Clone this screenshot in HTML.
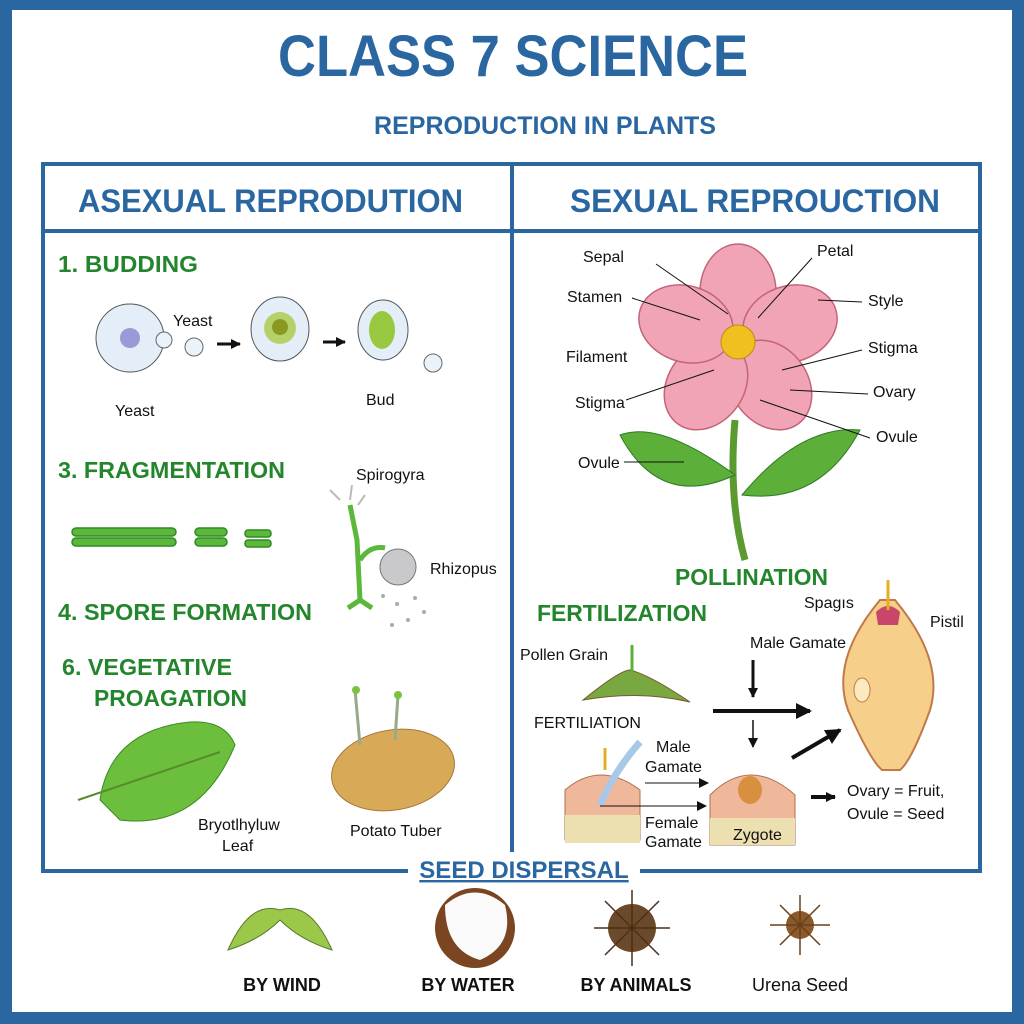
<!DOCTYPE html>
<html><head><meta charset="utf-8"><style>
html,body{margin:0;padding:0;background:#fff}
svg{display:block}
text{font-family:"Liberation Sans",sans-serif}
.h{font-weight:bold;fill:#2a66a0}
.g{font-weight:bold;fill:#24862c}
.l{font-size:16px;fill:#111}
</style></head><body>
<svg width="1024" height="1024" viewBox="0 0 1024 1024" xmlns="http://www.w3.org/2000/svg">
<defs><marker id="a" markerUnits="userSpaceOnUse" markerWidth="10" markerHeight="10" refX="9" refY="5" orient="auto"><path d="M0,0 L10,5 L0,10z" fill="#111"/></marker>
<marker id="b" markerUnits="userSpaceOnUse" markerWidth="16" markerHeight="16" refX="14" refY="8" orient="auto"><path d="M0,0 L16,8 L0,16z" fill="#111"/></marker></defs>
<rect x="0" y="0" width="1024" height="1024" fill="#2a66a0"/>
<rect x="12" y="10" width="1000" height="1002" fill="#fff"/>
<text x="278" y="76" class="h" font-size="58" textLength="470" lengthAdjust="spacingAndGlyphs">CLASS 7 SCIENCE</text>
<text x="374" y="134" class="h" font-size="25" textLength="342" lengthAdjust="spacingAndGlyphs">REPRODUCTION IN PLANTS</text>
<rect x="43" y="164" width="937" height="707" fill="none" stroke="#2a66a0" stroke-width="4"/>
<line x1="43" y1="231" x2="980" y2="231" stroke="#2a66a0" stroke-width="4"/>
<line x1="512" y1="164" x2="512" y2="871" stroke="#2a66a0" stroke-width="4"/>
<text x="78" y="212" class="h" font-size="32" textLength="385" lengthAdjust="spacingAndGlyphs">ASEXUAL REPRODUTION</text>
<text x="570" y="212" class="h" font-size="32" textLength="370" lengthAdjust="spacingAndGlyphs">SEXUAL REPROUCTION</text>
<!-- left -->
<text x="58" y="272" class="g" font-size="23" textLength="140" lengthAdjust="spacingAndGlyphs">1. BUDDING</text>
<circle cx="130" cy="338" r="34" fill="#e4eef8" stroke="#555"/>
<circle cx="130" cy="338" r="10" fill="#9a9ad8"/>
<circle cx="164" cy="340" r="8" fill="#eaf2fa" stroke="#666"/>
<circle cx="194" cy="347" r="9" fill="#eaf2fa" stroke="#666"/>
<text x="173" y="326" class="l" font-size="18">Yeast</text>
<text x="115" y="416" class="l" font-size="18">Yeast</text>
<line x1="217" y1="344" x2="240" y2="344" stroke="#111" stroke-width="3" marker-end="url(#a)"/>
<ellipse cx="280" cy="329" rx="29" ry="32" fill="#e4eef8" stroke="#555"/>
<circle cx="280" cy="328" r="16" fill="#b5d26a"/><circle cx="280" cy="327" r="8" fill="#8a9a20"/>
<line x1="323" y1="342" x2="345" y2="342" stroke="#111" stroke-width="3" marker-end="url(#a)"/>
<ellipse cx="383" cy="330" rx="25" ry="30" fill="#e4eef8" stroke="#555"/>
<ellipse cx="382" cy="330" rx="13" ry="19" fill="#98c840"/>
<circle cx="433" cy="363" r="9" fill="#eaf2fa" stroke="#666"/>
<text x="366" y="405" class="l" font-size="18">Bud</text>
<text x="58" y="478" class="g" font-size="23" textLength="227" lengthAdjust="spacingAndGlyphs">3. FRAGMENTATION</text>
<text x="356" y="480" class="l" font-size="18">Spirogyra</text>
<g fill="#5cb83a" stroke="#2f8a22" stroke-width="1.5">
<rect x="72" y="528" width="104" height="8" rx="4"/><rect x="72" y="538" width="104" height="8" rx="4"/>
<rect x="195" y="528" width="32" height="8" rx="4"/><rect x="195" y="538" width="32" height="8" rx="4"/>
<rect x="245" y="530" width="26" height="7" rx="3"/><rect x="245" y="540" width="26" height="7" rx="3"/>
</g>
<path d="M350 505 L357 540 L360 600 M360 560 Q370 545 385 548 M348 608 L360 600 L372 608" stroke="#5cb83a" stroke-width="5" fill="none"/>
<path d="M340 500 L330 490 M350 500 L352 485 M358 505 L365 495" stroke="#bbb" stroke-width="2" fill="none"/>
<circle cx="398" cy="567" r="18" fill="#c9c9cc" stroke="#777"/>
<g fill="#aaa"><circle cx="383" cy="596" r="2"/><circle cx="397" cy="604" r="2"/><circle cx="415" cy="598" r="2"/><circle cx="408" cy="620" r="2"/><circle cx="392" cy="625" r="2"/><circle cx="424" cy="612" r="2"/></g>
<text x="430" y="574" class="l" font-size="17">Rhizopus</text>
<text x="58" y="620" class="g" font-size="23" textLength="254" lengthAdjust="spacingAndGlyphs">4. SPORE FORMATION</text>
<text x="62" y="675" class="g" font-size="23" textLength="170" lengthAdjust="spacingAndGlyphs">6. VEGETATIVE</text>
<text x="94" y="706" class="g" font-size="23" textLength="153" lengthAdjust="spacingAndGlyphs">PROAGATION</text>
<path d="M100 800 Q110 730 190 722 Q225 720 235 745 Q200 830 120 820 Z" fill="#6cbf3c" stroke="#3a8a22"/>
<path d="M78 800 L220 752" stroke="#5a8a30" stroke-width="2"/>
<text x="198" y="830" class="l">Bryotlhyluw</text>
<text x="222" y="851" class="l">Leaf</text>
<ellipse cx="393" cy="770" rx="62" ry="40" fill="#d8aa58" stroke="#a5783a" transform="rotate(-10 393 770)"/>
<path d="M360 745 L355 690 M395 740 L398 695" stroke="#9a8" stroke-width="3"/>
<circle cx="356" cy="690" r="4" fill="#7bc242"/><circle cx="398" cy="695" r="4" fill="#7bc242"/>
<text x="350" y="836" class="l" font-size="18">Potato Tuber</text>
<!-- right: flower -->
<path d="M735 420 Q728 500 745 560" stroke="#5a9a30" stroke-width="7" fill="none"/>
<path d="M735 475 Q660 420 620 435 Q660 510 735 475Z" fill="#5cb03a" stroke="#2f7a22"/>
<path d="M742 495 Q800 425 860 430 Q820 505 742 495Z" fill="#5cb03a" stroke="#2f7a22"/>
<g fill="#f0a4b6" stroke="#c46478" stroke-width="1.5">
<ellipse cx="738" cy="292" rx="38" ry="48"/>
<ellipse cx="790" cy="324" rx="38" ry="48" transform="rotate(72 790 324)"/>
<ellipse cx="770" cy="385" rx="38" ry="48" transform="rotate(144 770 385)"/>
<ellipse cx="706" cy="385" rx="38" ry="48" transform="rotate(216 706 385)"/>
<ellipse cx="686" cy="324" rx="38" ry="48" transform="rotate(288 686 324)"/>
</g>
<circle cx="738" cy="342" r="17" fill="#f0c020" stroke="#c08a10"/>
<g class="l">
<text x="583" y="262">Sepal</text><text x="817" y="256">Petal</text>
<text x="567" y="302">Stamen</text><text x="868" y="306">Style</text>
<text x="566" y="362">Filament</text><text x="868" y="353">Stigma</text>
<text x="575" y="408">Stigma</text><text x="873" y="397">Ovary</text>
<text x="876" y="442">Ovule</text><text x="578" y="468">Ovule</text>
</g>
<g stroke="#111" stroke-width="1" fill="none">
<path d="M656 264 L728 314"/><path d="M812 258 L758 318"/><path d="M632 298 L700 320"/>
<path d="M862 302 L818 300"/><path d="M862 350 L782 370"/><path d="M868 394 L790 390"/>
<path d="M870 438 L760 400"/><path d="M626 400 L714 370"/><path d="M624 462 L684 462"/>
</g>
<text x="675" y="585" class="g" font-size="23" textLength="153" lengthAdjust="spacingAndGlyphs">POLLINATION</text>
<text x="537" y="621" class="g" font-size="23" textLength="170" lengthAdjust="spacingAndGlyphs">FERTILIZATION</text>
<text x="520" y="660" class="l" font-size="15">Pollen Grain</text>
<path d="M583 700 Q620 670 630 670 Q650 675 690 702 Q640 690 583 700Z" fill="#7aa840" stroke="#7a5a30"/>
<path d="M632 672 L632 645" stroke="#5cb03a" stroke-width="3"/>
<text x="534" y="728" class="l" font-size="15">FERTILIATION</text>
<text x="750" y="648" class="l" font-size="15">Male Gamate</text>
<line x1="753" y1="660" x2="753" y2="697" stroke="#111" stroke-width="3" marker-end="url(#a)"/>
<line x1="713" y1="711" x2="810" y2="711" stroke="#111" stroke-width="4" marker-end="url(#b)"/>
<line x1="753" y1="720" x2="753" y2="747" stroke="#111" stroke-width="1.5" marker-end="url(#a)"/>
<line x1="792" y1="758" x2="840" y2="730" stroke="#111" stroke-width="4" marker-end="url(#b)"/>
<path d="M880 600 Q830 660 848 710 Q870 760 882 770 L900 770 Q912 760 930 710 Q945 660 895 600Z" fill="#f6cf8a" stroke="#c07a4a" stroke-width="2"/>
<path d="M876 612 Q888 600 900 612 L898 625 L878 625Z" fill="#c8466a"/>
<path d="M888 580 L888 610" stroke="#e0b020" stroke-width="3"/>
<ellipse cx="862" cy="690" rx="8" ry="12" fill="#fde9c0" stroke="#c07a4a"/>
<text x="804" y="608" class="l" font-size="13">Spagıs</text>
<text x="930" y="627" class="l" font-size="16">Pistil</text>
<path d="M565 815 L565 790 Q600 760 640 790 L640 840 L565 840Z" fill="#f0b89a" stroke="#b07050"/>
<rect x="565" y="815" width="75" height="28" fill="#ece0b0"/>
<path d="M710 820 L710 795 Q750 755 795 795 L795 845 L710 845Z" fill="#f0b89a" stroke="#b07050"/>
<rect x="710" y="818" width="85" height="27" fill="#ece0b0"/>
<ellipse cx="750" cy="790" rx="12" ry="14" fill="#d89040"/>
<path d="M600 805 Q615 770 640 742" stroke="#a8c8e8" stroke-width="7" fill="none"/>
<path d="M605 770 L605 748" stroke="#e0b020" stroke-width="3"/>
<text x="656" y="752" class="l" font-size="15">Male</text>
<text x="645" y="772" class="l" font-size="15">Gamate</text>
<text x="645" y="828" class="l" font-size="15">Female</text>
<text x="645" y="847" class="l" font-size="15">Gamate</text>
<text x="733" y="840" class="l" font-size="15">Zygote</text>
<line x1="645" y1="783" x2="708" y2="783" stroke="#111" marker-end="url(#a)"/>
<line x1="600" y1="806" x2="706" y2="806" stroke="#111" marker-end="url(#a)"/>
<line x1="811" y1="797" x2="835" y2="797" stroke="#111" stroke-width="4" marker-end="url(#a)"/>
<text x="847" y="796" class="l" font-size="18">Ovary = Fruit,</text>
<text x="847" y="819" class="l" font-size="18">Ovule = Seed</text>
<!-- seed dispersal -->
<rect x="408" y="852" width="232" height="34" fill="#fff"/>
<text x="524" y="878" text-anchor="middle" class="h" font-size="24" text-decoration="underline">SEED DISPERSAL</text>
<path d="M280 910 Q250 900 228 950 Q260 940 280 920 Q300 940 332 950 Q310 900 280 910Z" fill="#9cc84a" stroke="#5a7a30"/>
<circle cx="475" cy="928" r="40" fill="#7a4520"/>
<path d="M445 905 Q475 880 505 905 Q515 945 480 960 Q445 950 445 905Z" fill="#fafafa"/>
<circle cx="632" cy="928" r="24" fill="#6a4a2a"/>
<g stroke="#4a3018" stroke-width="1.5">
<path d="M632 890 L632 966 M594 928 L670 928 M605 901 L659 955 M659 901 L605 955"/></g>
<circle cx="800" cy="925" r="14" fill="#8a5a2a"/>
<g stroke="#6a4018" stroke-width="1.5"><path d="M800 895 L800 955 M770 925 L830 925 M780 905 L820 945 M820 905 L780 945"/></g>
<text x="282" y="991" text-anchor="middle" font-weight="bold" font-size="18" fill="#111">BY WIND</text>
<text x="468" y="991" text-anchor="middle" font-weight="bold" font-size="18" fill="#111">BY WATER</text>
<text x="636" y="991" text-anchor="middle" font-weight="bold" font-size="18" fill="#111">BY ANIMALS</text>
<text x="800" y="991" text-anchor="middle" font-size="18" fill="#111">Urena Seed</text>
</svg>
</body></html>
